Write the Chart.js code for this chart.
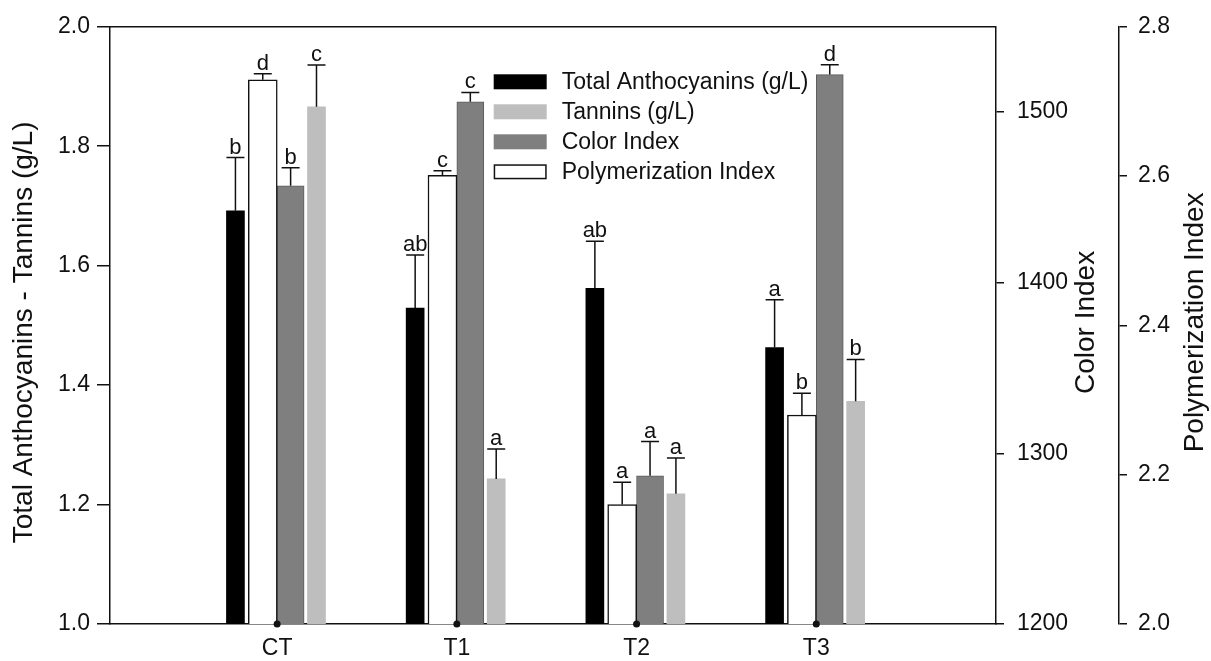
<!DOCTYPE html>
<html>
<head>
<meta charset="utf-8">
<script src="https://cdn.jsdelivr.net/npm/chart.js@4.4.1/dist/chart.umd.min.js"></script>
<style>
  html, body { margin: 0; padding: 0; background: #fff; }
  #wrap { width: 1211px; height: 661px; position: relative; }
</style>
</head>
<body>
<div id="wrap"><canvas id="c" width="1211" height="661"></canvas></div>
<script>
// ---- data ----
const categories = ['CT', 'T1', 'T2', 'T3'];

const anthocyanins      = [1.692, 1.529, 1.562, 1.463];
const anthocyaninsErr   = [0.089, 0.089, 0.079, 0.080];
const anthocyaninsSig   = ['b', 'ab', 'ab', 'a'];

const polymerization    = [2.729, 2.601, 2.160, 2.280];
const polymerizationErr = [0.008, 0.006, 0.030, 0.029];
const polymerizationSig = ['d', 'c', 'a', 'b'];

const colorIndex        = [1456.8, 1506.1, 1286.9, 1522.0];
const colorIndexErr     = [10.6, 5.4, 20.0, 5.8];
const colorIndexSig     = ['b', 'c', 'a', 'd'];

const tannins           = [1.866, 1.243, 1.218, 1.373];
const tanninsErr        = [0.070, 0.050, 0.060, 0.070];
const tanninsSig        = ['c', 'a', 'a', 'b'];

const leftTicks  = [1.0, 1.2, 1.4, 1.6, 1.8, 2.0];
const colorTicks = [1200, 1300, 1400, 1500];
const polyTicks  = [2.0, 2.2, 2.4, 2.6, 2.8];

// ---- styling ----
const FONT = '"Liberation Sans", Arial, Helvetica, sans-serif';
const INK = '#111111';

// position of each series inside its group (in category units) and its bar width
function series(label, values, errs, sig, axis, shift, width, fill, border, borderWidth) {
  return {
    label,
    data: values.map((v, i) => ({ x: i + 1 + shift, y: v })),
    errors: errs,
    letters: sig,
    yAxisID: axis,
    grouped: false,
    barThickness: width,
    backgroundColor: fill,
    borderColor: border,
    borderWidth: borderWidth,
    borderSkipped: 'bottom'
  };
}

const datasets = [
  series('Total Anthocyanins (g/L)', anthocyanins, anthocyaninsErr, anthocyaninsSig, 'y',  -0.232, 18, '#000000', '#000000', 0),
  series('Polymerization Index',    polymerization, polymerizationErr, polymerizationSig, 'y2', -0.080, 29, '#ffffff', INK, 1.5),
  series('Color Index',             colorIndex, colorIndexErr, colorIndexSig, 'y1', 0.075, 27, '#7f7f7f', '#5c5c5c', 1),
  series('Tannins (g/L)',           tannins, tanninsErr, tanninsSig, 'y',  0.219, 18, '#bebebe', '#bebebe', 0)
];

const legendOrder = ['Total Anthocyanins (g/L)', 'Tannins (g/L)', 'Color Index', 'Polymerization Index'];

// error whiskers (upward) with significance letters
const errorBars = {
  id: 'errorBars',
  afterDatasetsDraw(chart) {
    const ctx = chart.ctx;
    chart.data.datasets.forEach((ds, di) => {
      const meta = chart.getDatasetMeta(di);
      const ys = chart.scales[ds.yAxisID];
      meta.data.forEach((bar, i) => {
        const top = ys.getPixelForValue(ds.data[i].y + ds.errors[i]);
        ctx.save();
        ctx.strokeStyle = INK;
        ctx.lineWidth = 1.5;
        ctx.beginPath();
        ctx.moveTo(bar.x, bar.y);
        ctx.lineTo(bar.x, top);
        ctx.moveTo(bar.x - 9, top);
        ctx.lineTo(bar.x + 9, top);
        ctx.stroke();
        ctx.fillStyle = INK;
        ctx.font = '22px ' + FONT;
        ctx.textAlign = 'center';
        ctx.textBaseline = 'alphabetic';
        ctx.fillText(ds.letters[i], bar.x, top - 4);
        ctx.restore();
      });
    });
  }
};

// frame top line, category dots, axis titles and the inset legend
const decorations = {
  id: 'decorations',
  afterDraw(chart) {
    const ctx = chart.ctx;
    const a = chart.chartArea;
    const sx = chart.scales.x;
    ctx.save();

    // top edge of the frame
    ctx.strokeStyle = INK;
    ctx.lineWidth = 1.5;
    ctx.beginPath();
    ctx.moveTo(a.left, a.top);
    ctx.lineTo(a.right, a.top);
    ctx.stroke();

    // dots on the x axis at each category
    ctx.fillStyle = INK;
    categories.forEach((_, i) => {
      ctx.beginPath();
      ctx.arc(sx.getPixelForValue(i + 1), a.bottom, 3.5, 0, Math.PI * 2);
      ctx.fill();
    });

    // axis titles, reading bottom to top
    const mid = (a.top + a.bottom) / 2;
    const titles = [
      [chart.scales.y.options.title.text, chart.scales.y.left + 24, mid + 7],
      [chart.scales.y1.options.title.text, chart.scales.y1.right - 33, mid - 3],
      [chart.scales.y2.options.title.text, chart.scales.y2.right - 16, mid - 3]
    ];
    ctx.font = '28px ' + FONT;
    ctx.textAlign = 'center';
    ctx.textBaseline = 'middle';
    titles.forEach(([text, x, y]) => {
      ctx.save();
      ctx.translate(x, y);
      ctx.rotate(-Math.PI / 2);
      ctx.fillStyle = INK;
      ctx.fillText(text, 0, 0);
      ctx.restore();
    });

    // legend
    const lx = sx.getPixelForValue(2.205);
    const ly = a.top + 55;
    ctx.font = '23px ' + FONT;
    ctx.textAlign = 'left';
    ctx.textBaseline = 'middle';
    legendOrder.forEach((label, k) => {
      const ds = chart.data.datasets.find(d => d.label === label);
      const cy = ly + k * 30;
      ctx.fillStyle = ds.backgroundColor;
      ctx.fillRect(lx, cy - 7.5, 53, 15);
      if (ds.backgroundColor === '#ffffff') {
        ctx.strokeStyle = INK;
        ctx.lineWidth = 1.5;
        ctx.strokeRect(lx + 0.75, cy - 7.5 + 0.75, 53 - 1.5, 15 - 1.5);
      }
      ctx.fillStyle = INK;
      ctx.fillText(label, lx + 68, cy + 1);
    });
    ctx.restore();
  }
};

const tickFont = { family: FONT, size: 23 };

new Chart(document.getElementById('c'), {
  type: 'bar',
  data: { datasets },
  plugins: [errorBars, decorations],
  options: {
    responsive: false,
    animation: false,
    devicePixelRatio: 1,
    layout: { padding: { top: 24, left: 0, right: 0, bottom: 0 } },
    plugins: { legend: { display: false }, tooltip: { enabled: false } },
    scales: {
      x: {
        type: 'linear',
        min: 0.07,
        max: 5.0,
        offset: false,
        afterBuildTicks: s => { s.ticks = categories.map((_, i) => ({ value: i + 1 })); },
        ticks: {
          callback: v => categories[Math.round(v) - 1] ?? '',
          font: { family: FONT, size: 23 },
          color: INK,
          padding: 11,
          maxRotation: 0,
          autoSkip: false
        },
        grid: { display: false, drawTicks: false, offset: false },
        border: { display: true, color: INK, width: 1.5 },
        afterFit: s => { s.height = 37; }
      },
      y: {
        type: 'linear',
        position: 'left',
        min: 1.0,
        max: 2.0,
        beginAtZero: false,
        title: { display: false, text: 'Total Anthocyanins - Tannins (g/L)' },
        afterBuildTicks: s => { s.ticks = leftTicks.map(v => ({ value: v })); },
        ticks: { callback: v => Number(v).toFixed(1), font: tickFont, color: INK, padding: 7 },
        grid: { drawOnChartArea: false, drawTicks: true, tickLength: 13, color: INK, lineWidth: 1.5 },
        border: { display: true, color: INK, width: 1.5 },
        afterFit: s => { s.width = 110; }
      },
      y1: {
        type: 'linear',
        position: 'right',
        weight: 0,
        min: 1200,
        max: 1550,
        beginAtZero: false,
        title: { display: false, text: 'Color Index' },
        afterBuildTicks: s => { s.ticks = colorTicks.map(v => ({ value: v })); },
        ticks: { callback: v => String(Math.round(v)), font: tickFont, color: INK, padding: 13 },
        grid: { drawOnChartArea: false, drawTicks: true, tickLength: 8, color: INK, lineWidth: 1.5 },
        border: { display: true, color: INK, width: 1.5 },
        afterFit: s => { s.width = 123; }
      },
      y2: {
        type: 'linear',
        position: 'right',
        weight: 1,
        min: 2.0,
        max: 2.8,
        beginAtZero: false,
        title: { display: false, text: 'Polymerization Index' },
        afterBuildTicks: s => { s.ticks = polyTicks.map(v => ({ value: v })); },
        ticks: { callback: v => Number(v).toFixed(1), font: tickFont, color: INK, padding: 11 },
        grid: { drawOnChartArea: false, drawTicks: true, tickLength: 8, color: INK, lineWidth: 1.5 },
        border: { display: true, color: INK, width: 1.5 },
        afterFit: s => { s.width = 92; }
      }
    }
  }
});
</script>
</body>
</html>
